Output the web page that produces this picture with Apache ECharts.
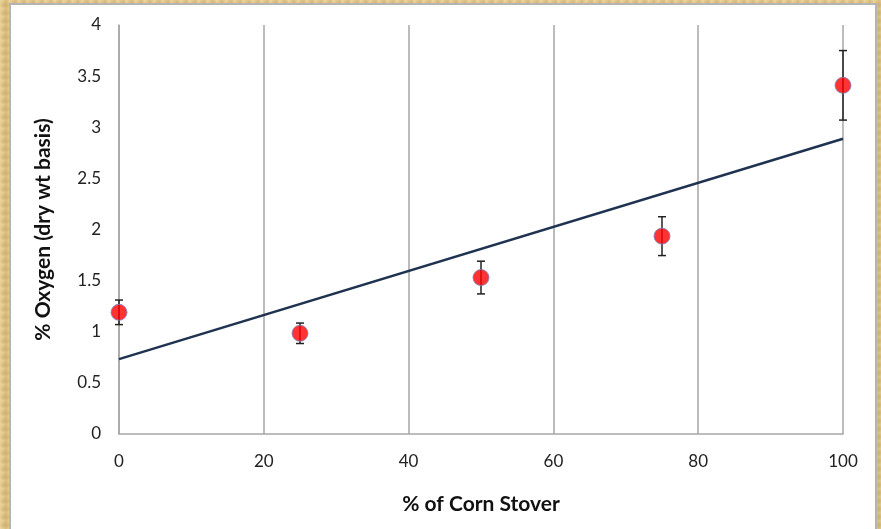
<!DOCTYPE html>
<html>
<head>
<meta charset="utf-8">
<script src="https://cdn.jsdelivr.net/npm/echarts@6/dist/echarts.min.js"></script>
<style>
html,body{margin:0;padding:0;width:881px;height:529px;overflow:hidden;}
body{background:#dcc07e;
 background-image:
  repeating-linear-gradient(90deg, rgba(255,240,200,0.35) 0px, rgba(255,240,200,0.0) 3px, rgba(170,130,60,0.2) 6px, rgba(255,240,200,0.1) 9px),
  repeating-linear-gradient(0deg, rgba(255,245,210,0.25) 0px, rgba(190,150,80,0.18) 4px, rgba(255,245,210,0.2) 8px);}
#panel{position:absolute;left:9px;top:3px;width:868px;height:540px;background:#fff;border:2px solid #b4b4b4;box-sizing:border-box;}
#chart{position:absolute;left:0;top:0;width:881px;height:529px;}
</style>
</head>
<body>
<div id="panel"></div>
<div id="chart"></div>
<script>
const xValues = [0, 25, 50, 75, 100];
const oxygen = [1.19, 0.985, 1.53, 1.935, 3.41];
const errors = [0.12, 0.10, 0.16, 0.19, 0.34];
const xTicks = [0, 20, 40, 60, 80, 100];
const yTicks = [0, 0.5, 1, 1.5, 2, 2.5, 3, 3.5, 4];
const r2Label = 'R² = 0.7826';

// linear least-squares trendline from the data
const n = xValues.length;
const mx = xValues.reduce((a,b)=>a+b,0)/n;
const my = oxygen.reduce((a,b)=>a+b,0)/n;
let sxy=0, sxx=0;
for(let i=0;i<n;i++){sxy+=(xValues[i]-mx)*(oxygen[i]-my);sxx+=(xValues[i]-mx)**2;}
const slope = sxy/sxx, intercept = my - slope*mx;
const trend = [[0, intercept],[100, intercept+slope*100]];

const font = 'Lato, "Open Sans", sans-serif';
const chart = echarts.init(document.getElementById('chart'));
chart.setOption({
  backgroundColor: 'transparent',
  animation: false,
  grid: {left:119, right:38, top:25, bottom:95},
  xAxis: {
    type:'value', min:0, max:100, interval:20,
    axisLine:{show:true, lineStyle:{color:'#a6a6a6', width:1.5}},
    axisTick:{show:false},
    splitLine:{show:true, lineStyle:{color:'#a6a6a6', width:1.5}},
    axisLabel:{color:'#222', fontSize:17, fontFamily:font, margin:19},
    name:'% of Corn Stover', nameLocation:'middle', nameGap:60,
    nameTextStyle:{color:'#111', fontSize:21, fontWeight:'bold', fontFamily:font}
  },
  yAxis: {
    type:'value', min:0, max:4, interval:0.5,
    axisLine:{show:true, lineStyle:{color:'#a6a6a6', width:1.5}},
    axisTick:{show:false},
    splitLine:{show:false},
    axisLabel:{color:'#222', fontSize:17, fontFamily:font, margin:18},
    name:'% Oxygen (dry wt basis)', nameLocation:'middle', nameGap:65,
    nameTextStyle:{color:'#111', fontSize:21, fontWeight:'bold', fontFamily:font}
  },
  series: [
    {
      type:'line', data: trend, symbol:'none', silent:true,
      lineStyle:{color:'#1f3350', width:2.5}, z:2
    },
    {
      type:'custom', z:3,
      data: xValues.map((x,i)=>[x, oxygen[i]-errors[i], oxygen[i]+errors[i]]),
      renderItem: function(params, api){
        const lo = api.coord([api.value(0), api.value(1)]);
        const hi = api.coord([api.value(0), api.value(2)]);
        const w = 4;
        const st = {stroke:'#222', lineWidth:1.5};
        return {type:'group', children:[
          {type:'line', shape:{x1:lo[0],y1:lo[1],x2:hi[0],y2:hi[1]}, style:st},
          {type:'line', shape:{x1:lo[0]-w,y1:lo[1],x2:lo[0]+w,y2:lo[1]}, style:st},
          {type:'line', shape:{x1:hi[0]-w,y1:hi[1],x2:hi[0]+w,y2:hi[1]}, style:st}
        ]};
      }
    },
    {
      type:'scatter', z:4,
      data: xValues.map((x,i)=>[x, oxygen[i]]),
      symbol:'circle', symbolSize:16,
      itemStyle:{color:'#ff0000', borderColor:'#7b7fb8', borderWidth:1},
      markPoint:{
        symbol:'none', silent:true,
        data:[{coord:[85.2, 2.17], label:{show:true, formatter:r2Label, color:'#222', fontSize:13, fontFamily:font}}]
      }
    }
  ]
});
</script>
</body>
</html>
